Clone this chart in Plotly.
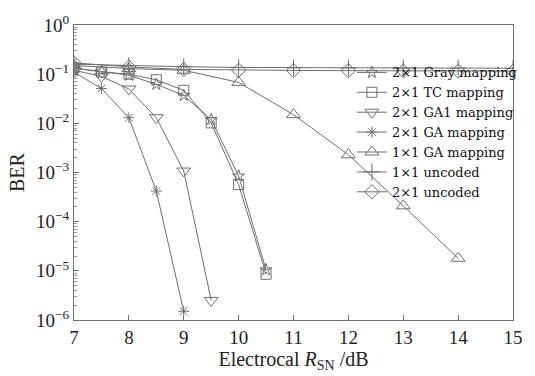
import plotly.graph_objects as go

# Data
x_gray = [7, 7.5, 8, 8.5, 9, 9.5, 10, 10.5]
ber_gray = [0.13, 0.115, 0.095, 0.062, 0.037, 0.012, 8.5e-4, 1.05e-5]

x_tc = [7, 7.5, 8, 8.5, 9, 9.5, 10, 10.5]
ber_tc = [0.135, 0.11, 0.1, 0.077, 0.047, 0.0102, 5.7e-4, 8.5e-6]

x_ga1 = [7, 7.5, 8, 8.5, 9, 9.5]
ber_ga1 = [0.12, 0.09, 0.05, 0.013, 1.07e-3, 2.5e-6]

x_ga = [7, 7.5, 8, 8.5, 9]
ber_ga = [0.11, 0.051, 0.013, 4.2e-4, 1.5e-6]

x_ga11 = [7, 8, 9, 10, 11, 12, 13, 14]
ber_ga11 = [0.15, 0.13, 0.12, 0.068, 0.015, 2.3e-3, 2.1e-4, 1.8e-5]

x_unc11 = [7, 8, 9, 10, 11, 12, 13, 14, 15]
ber_unc11 = [0.16, 0.15, 0.142, 0.137, 0.135, 0.134, 0.133, 0.133, 0.132]

x_unc21 = [7, 8, 9, 10, 11, 12, 13, 14, 15]
ber_unc21 = [0.17, 0.14, 0.125, 0.12, 0.119, 0.118, 0.117, 0.116, 0.115]

names = ["2×1 Gray mapping", "2×1 TC mapping", "2×1 GA1 mapping", "2×1 GA mapping",
         "1×1 GA mapping", "1×1 uncoded", "2×1 uncoded"]
symbols = ["star-open", "square-open", "triangle-down-open", "asterisk-open",
           "triangle-up-open", "cross-thin-open", "diamond-open"]
sizes = [9, 10, 12, 9, 12, 12, 11]

xs = [x_gray, x_tc, x_ga1, x_ga, x_ga11, x_unc11, x_unc21]
ys = [ber_gray, ber_tc, ber_ga1, ber_ga, ber_ga11, ber_unc11, ber_unc21]

col = "#6e6e6e"
fig = go.Figure()
for x, y, n, s, sz in zip(xs, ys, names, symbols, sizes):
    fig.add_trace(go.Scatter(
        x=x, y=y, name=n, mode="lines+markers",
        line=dict(color=col, width=1),
        marker=dict(symbol=s, size=sz, color=col, line=dict(color=col, width=1)),
    ))

font_fam = "Liberation Serif"
yt_vals = [1e0, 1e-1, 1e-2, 1e-3, 1e-4, 1e-5, 1e-6]
yt_text = ["10<sup>0</sup>", "10<sup>−1</sup>", "10<sup>−2</sup>", "10<sup>−3</sup>",
           "10<sup>−4</sup>", "10<sup>−5</sup>", "10<sup>−6</sup>"]
minor_vals = [m * 10 ** e for e in range(-6, 0) for m in range(2, 10)]

fig.update_layout(
    width=535, height=376,
    margin=dict(l=74, r=15, t=15, b=54),
    paper_bgcolor="white", plot_bgcolor="white",
    font=dict(family=font_fam, size=19, color="#222"),
    showlegend=True,
    legend=dict(x=0.633, y=0.89, xanchor="left", yanchor="top",
                bgcolor="rgba(0,0,0,0)", borderwidth=0,
                font=dict(family="DejaVu Serif", size=13, color="#111"),
                tracegroupgap=0, itemwidth=30),
    xaxis=dict(range=[7, 15], tickvals=[7, 8, 9, 10, 11, 12, 13, 14, 15],
               ticks="inside", ticklen=5, tickcolor=col,
               showline=True, linecolor=col, linewidth=1, mirror=True,
               showgrid=False, zeroline=False,
               tickfont=dict(size=19),
               title=dict(text="Electrocal <i>R</i><sub>SN</sub> /dB", font=dict(size=20), standoff=2)),
    yaxis=dict(type="log", range=[-6, 0], tickvals=yt_vals, ticktext=yt_text,
               ticks="inside", ticklen=5, tickcolor=col,
               minor=dict(tickvals=minor_vals, ticks="inside", ticklen=3, tickcolor="#999"),
               showline=True, linecolor=col, linewidth=1, mirror=True,
               showgrid=False, zeroline=False,
               tickfont=dict(size=19),
               title=dict(text="BER", font=dict(size=20), standoff=6)),
)

fig.write_html("out.html")
